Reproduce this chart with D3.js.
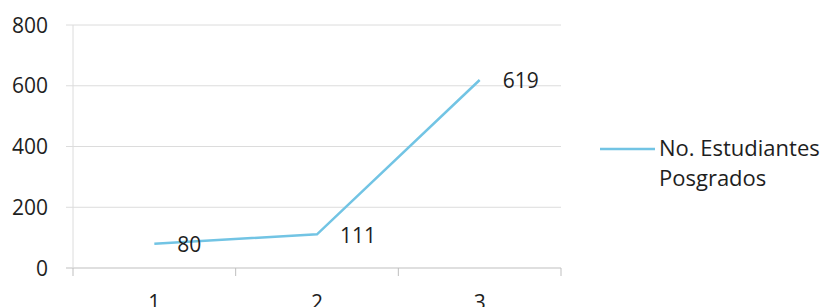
<!DOCTYPE html>
<html><head><meta charset="utf-8">
<script src="https://cdn.jsdelivr.net/npm/d3@7"></script>
<style>body{margin:0;background:#fff}svg{display:block}text{font-family:"Open Sans",sans-serif;fill:#1e1e1e}</style>
</head><body><svg id="c" width="826" height="307"></svg>
<script>
const categories = ["1","2","3"];
const values = [80, 111, 619];
const yTicks = [0, 200, 400, 600, 800];
const seriesName = ["No. Estudiantes", "Posgrados"];

const svg = d3.select("#c");
const pLeft = 73, pRight = 561, pTop = 25, pBottom = 268;
const x = d3.scaleBand().domain(categories).range([pLeft, pRight]);
const y = d3.scaleLinear().domain([0, 800]).range([pBottom, pTop]);
const color = "#72c4e4";

// gridlines
svg.append("g").selectAll("line").data(yTicks).join("line")
  .attr("x1", pLeft - 7).attr("x2", pRight)
  .attr("y1", d => y(d)).attr("y2", d => y(d))
  .attr("stroke", d => d === 0 ? "#bfbfbf" : "#dcdcdc").attr("stroke-width", 1);
// y axis line
svg.append("line").attr("x1", pLeft).attr("x2", pLeft).attr("y1", pTop).attr("y2", pBottom)
  .attr("stroke", "#dcdcdc");
// x ticks at band boundaries
const bounds = categories.map(c => x(c)).concat([pRight]);
svg.append("g").selectAll("line").data(bounds).join("line")
  .attr("x1", d => d).attr("x2", d => d).attr("y1", pBottom).attr("y2", pBottom + 8)
  .attr("stroke", "#bfbfbf");

// y labels
svg.append("g").selectAll("text").data(yTicks).join("text")
  .attr("x", 48).attr("y", d => y(d) + 7.5).attr("text-anchor", "end")
  .attr("font-size", 21).text(d => d);
// x labels
svg.append("g").selectAll("text").data(categories).join("text")
  .attr("x", d => x(d) + x.bandwidth() / 2).attr("y", 310).attr("text-anchor", "middle")
  .attr("font-size", 21).text(d => d);

// line
const cx = (d, i) => x(categories[i]) + x.bandwidth() / 2;
svg.append("path").datum(values)
  .attr("d", d3.line().x(cx).y(d => y(d)))
  .attr("fill", "none").attr("stroke", color).attr("stroke-width", 2.5);

// data labels
svg.append("g").selectAll("text").data(values).join("text")
  .attr("x", (d, i) => cx(d, i) + 23).attr("y", d => y(d) + 8.5)
  .attr("font-size", 21).text(d => d);

// legend
svg.append("line").attr("x1", 600).attr("x2", 655).attr("y1", 149).attr("y2", 149)
  .attr("stroke", color).attr("stroke-width", 2.5);
svg.append("g").selectAll("text").data(seriesName).join("text")
  .attr("x", 659).attr("y", (d, i) => 156 + i * 30).attr("font-size", 22).text(d => d);
</script></body></html>
